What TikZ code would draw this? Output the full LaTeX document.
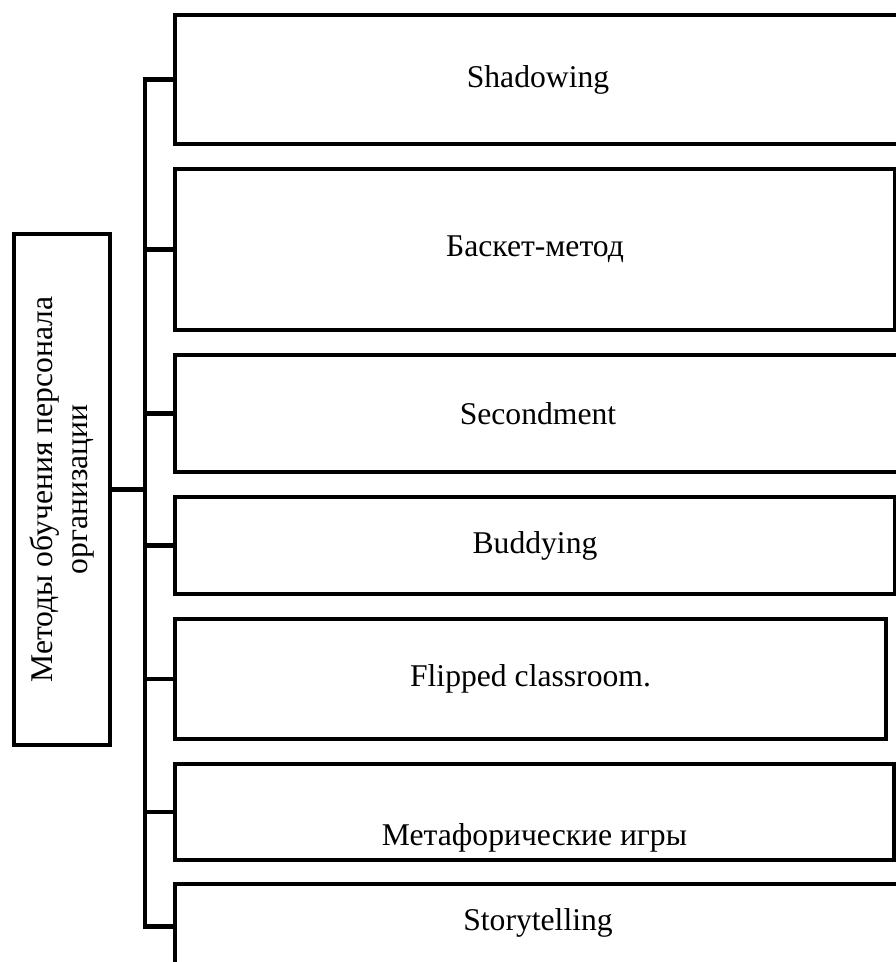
\documentclass[tikz,border=0pt]{standalone}
\usepackage{fontspec}
\setmainfont{Liberation Serif}
\usetikzlibrary{positioning, calc}
\newlength{\unitpx}
\setlength{\unitpx}{0.025cm}
\tikzset{
    box/.style={draw, line width=4.5\unitpx, inner sep=0pt, outer sep=0pt,
        align=center, font=\fontsize{22.5}{25}\selectfont}
}

\begin{document}
\begin{tikzpicture}[
    x=\unitpx, y=-\unitpx,
    item/.style={box, minimum width=#1\unitpx, anchor=north west},
    line/.style={line width=4.5\unitpx, line join=miter},
    node distance=25\unitpx
]
\useasboundingbox (0,0) rectangle (896,962);

% Main box (rotated, so its south side faces right)
\node[box, rotate=90, minimum width=511\unitpx, minimum height=96\unitpx]
    (main) at (62,489.5) {Методы обучения персонала\\организации};

% Methods
\node[item=726, minimum height=129\unitpx] (shadow) at (175,15) {Shadowing};
\node[item=720, minimum height=161\unitpx, below=of shadow.south west,
      anchor=north west] (basket) {Баскет-метод};
\node[item=726, minimum height=117\unitpx, below=of basket.south west,
      anchor=north west] (second) {Secondment};
\node[item=720, minimum height=97\unitpx, below=of second.south west,
      anchor=north west] (buddy) {Buddying};
\node[item=711, minimum height=120\unitpx, below=of buddy.south west,
      anchor=north west] (flip) {Flipped classroom.};
\node[item=719, minimum height=96\unitpx, text height=74\unitpx,
      text depth=8\unitpx, below=of flip.south west,
      anchor=north west] (metaphor) {Метафорические игры};
\node[item=726, minimum height=85\unitpx, text height=21\unitpx,
      text depth=14\unitpx, below=24\unitpx of metaphor.south west,
      anchor=north west] (story) {Storytelling};

% Spine and branches
\coordinate (spine) at ([xshift=35\unitpx]main.south);
\draw[line] (main.south) -- (spine);
\draw[line] (shadow.west) -| (spine) |- (story.west);
\foreach \n in {basket, second, buddy, flip, metaphor}
    \draw[line] (spine |- \n.west) -- (\n.west);

\end{tikzpicture}
\end{document}
